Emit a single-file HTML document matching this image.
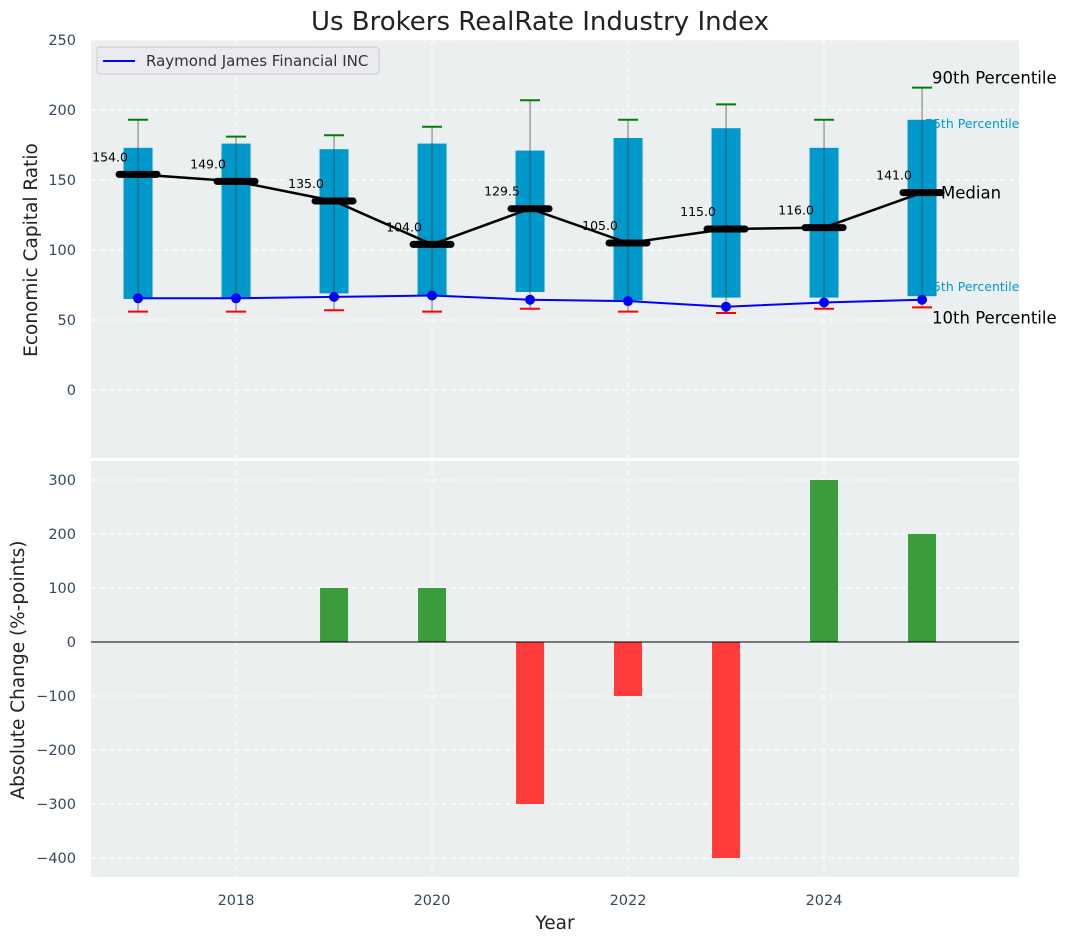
<!DOCTYPE html>
<html><head><meta charset="utf-8"><style>
body{margin:0;background:#fff}
text{font-family:"DejaVu Sans","Liberation Sans",sans-serif}
</style></head><body>
<svg id="chart" width="1067" height="942" xmlns="http://www.w3.org/2000/svg"></svg>
<script>
const years=[2017,2018,2019,2020,2021,2022,2023,2024,2025];
const p10=[56,56,57,56,58,56,55,58,59];
const p25=[65,65,69,67,70,64,66,66,67];
const p50=[154,149,135,104,129.5,105,115,116,141];
const p75=[173,176,172,176,171,180,187,173,193];
const p90=[193,181,182,188,207,193,204,193,216];
const company=[65.5,65.5,66.5,67.5,64.5,63.5,59.5,62.5,64.5];
const changes=[0,0,100,100,-300,-100,-400,300,200];
const topTicks=[0,50,100,150,200,250];
const botTicks=[-400,-300,-200,-100,0,100,200,300];
const xTicks=[2018,2020,2022,2024];

const svg=document.getElementById('chart');
const NS='http://www.w3.org/2000/svg';
function el(tag,attrs,parent,txt){const e=document.createElementNS(NS,tag);for(const k in attrs)e.setAttribute(k,attrs[k]);if(txt!==undefined)e.textContent=txt;(parent||svg).appendChild(e);return e;}
const X=v=>91+(v-2016.52)*98;
const Y1=v=>390-v*1.4;
const Y2=v=>642-v*0.54;
const L=91,R=1019;

let t=el('text',{x:540,y:30,'font-size':26,'text-anchor':'middle',fill:'#222'},svg,'Us Brokers RealRate Industry Index');


let bg1=el('rect',{x:L,y:40,width:R-L,height:418,fill:'#ebeff0'});

let bg2=el('rect',{x:L,y:461,width:R-L,height:416,fill:'#ebeff0'});


const g=el('g',{});

topTicks.forEach(v=>{el('line',{x1:L,x2:R,y1:Y1(v),y2:Y1(v),stroke:'#fff','stroke-dasharray':'5,4','stroke-width':1},g);
 const tt=el('text',{x:76,y:Y1(v)+5,'font-size':14.5,'text-anchor':'end',fill:'#34495e'},svg,v);
 });
botTicks.forEach(v=>{el('line',{x1:L,x2:R,y1:Y2(v),y2:Y2(v),stroke:'#fff','stroke-dasharray':'5,4','stroke-width':1},g);
 const tt=el('text',{x:76,y:Y2(v)+5,'font-size':14.5,'text-anchor':'end',fill:'#34495e'},svg,v===0?'0':(v<0?'\u2212'+(-v):v));
 });
xTicks.forEach(v=>{el('line',{x1:X(v),x2:X(v),y1:40,y2:458,stroke:'#fff','stroke-dasharray':'5,4'},g);
 el('line',{x1:X(v),x2:X(v),y1:461,y2:877,stroke:'#fff','stroke-dasharray':'5,4'},g);
 const tt=el('text',{x:X(v),y:905,'font-size':14.5,'text-anchor':'middle',fill:'#34495e'},svg,v);
 });

years.forEach((yr,i)=>{
 const x=X(yr),bw=29;
 const b=el('rect',{x:x-bw/2,y:Y1(p75[i]),width:bw,height:Y1(p25[i])-Y1(p75[i]),fill:'#0099cc'});
 
 const w=el('line',{x1:x,x2:x,y1:Y1(p90[i]),y2:Y1(p10[i]),stroke:'#444','stroke-width':1,opacity:0.7});
 
 const c9=el('line',{x1:x-10,x2:x+10,y1:Y1(p90[i]),y2:Y1(p90[i]),stroke:'green','stroke-width':2});
 
 const c1=el('line',{x1:x-10,x2:x+10,y1:Y1(p10[i]),y2:Y1(p10[i]),stroke:'red','stroke-width':2});
 
});
const mp=el('polyline',{points:years.map((y,i)=>X(y)+','+Y1(p50[i])).join(' '),fill:'none',stroke:'#000','stroke-width':2.5});

years.forEach((yr,i)=>{
 const m=el('line',{x1:X(yr)-19,x2:X(yr)+19,y1:Y1(p50[i]),y2:Y1(p50[i]),stroke:'#000','stroke-width':7,'stroke-linecap':'round'});
 
 const a=el('text',{x:X(yr)-28,y:Y1(p50[i])-13,'font-size':12.5,'text-anchor':'middle',fill:'#000'},svg,p50[i].toFixed(1));
 
});
const cl=el('polyline',{points:years.map((y,i)=>X(y)+','+Y1(company[i])).join(' '),fill:'none',stroke:'blue','stroke-width':2});

years.forEach((yr,i)=>{const d=el('circle',{cx:X(yr),cy:Y1(company[i]),r:5,fill:'blue'});
 });

const last=years.length-1,xl=X(years[last]);
[['90th Percentile',xl+10,Y1(p90[last])-4,16.5,'#000'],['75th Percentile',xl+3,Y1(p75[last])+8,12.5,'#0099cc'],['Median',xl+19,Y1(p50[last])+6,16.5,'#000'],['25th Percentile',xl+3,Y1(p25[last])-5,12.5,'#0099cc'],['10th Percentile',xl+10,Y1(p10[last])+16,16.5,'#000']].forEach(a=>{
 const tx=el('text',{x:a[1],y:a[2],'font-size':a[3],fill:a[4]},svg,a[0]);
 });

const lg=el('g',{});
el('rect',{x:97,y:47,width:282,height:27,rx:3,fill:'#eaeaf0',stroke:'#ccc'},lg);
el('line',{x1:103,x2:135,y1:61,y2:61,stroke:'blue','stroke-width':2},lg);
el('text',{x:146,y:66,'font-size':15,fill:'#333'},lg,'Raymond James Financial INC');

years.forEach((yr,i)=>{const v=changes[i];if(v===0)return;
 const b=el('rect',{x:X(yr)-14,y:Math.min(Y2(v),Y2(0)),width:28,height:Math.abs(Y2(v)-Y2(0)),fill:v>0?'#3a9c3a':'#ff3b3b'});
 });
const zl=el('line',{x1:L,x2:R,y1:Y2(0),y2:Y2(0),stroke:'#000','stroke-width':1});


let a1=el('text',{x:37,y:250,'font-size':18.5,'text-anchor':'middle',fill:'#222',transform:'rotate(-90 37 250)'},svg,'Economic Capital Ratio');

let a2=el('text',{x:24,y:670,'font-size':18.5,'text-anchor':'middle',fill:'#222',transform:'rotate(-90 24 670)'},svg,'Absolute Change (%-points)');

let a3=el('text',{x:555,y:929,'font-size':18.5,'text-anchor':'middle',fill:'#222'},svg,'Year');

</script>
</body></html>
